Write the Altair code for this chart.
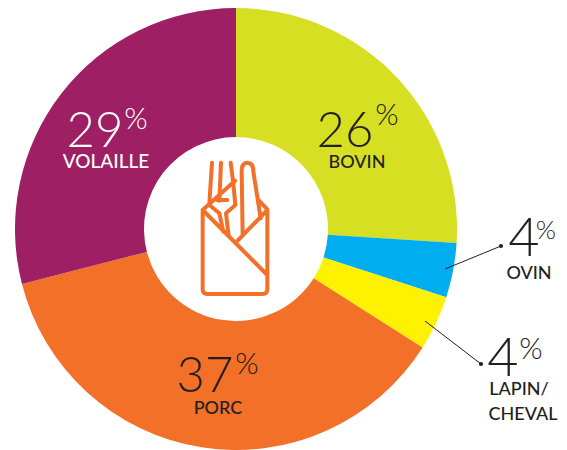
import altair as alt
import pandas as pd

categories = ["BOVIN", "OVIN", "LAPIN/CHEVAL", "PORC", "VOLAILLE"]
values = [26, 4, 4, 37, 29]
colors = ["#d6df21", "#00aeef", "#fff200", "#f37029", "#9e1f63"]

OFF = 8
CX, CY = 236 - OFF, 229 - OFF
INK = "#231f20"

df = pd.DataFrame({"cat": categories, "val": values, "order": range(5)})
pie = alt.Chart(df).mark_arc(outerRadius=221, innerRadius=92, stroke=None).encode(
    theta=alt.Theta("val:Q", stack=True),
    order=alt.Order("order:Q"),
    color=alt.Color("cat:N", scale=alt.Scale(domain=categories, range=colors), legend=None),
    x=alt.value(CX), y=alt.value(CY),
)

def label(t, x, y, size, color, weight=500):
    return alt.Chart(pd.DataFrame({"t": [t]})).mark_text(
        fontSize=size, font="Lato", fontWeight=weight, align="center", baseline="alphabetic",
        color=color
    ).encode(text="t:N", x=alt.value(x - OFF), y=alt.value(y - OFF))

def big(t, x, y, color, size=49):
    return label(t, x, y, size, color, weight=300)
def pct(x, y, color, size=30):
    return label("%", x, y, size, color, weight=300)

text_layers = [
    big("26", 345, 147, INK), pct(387, 125, INK), label("BOVIN", 357, 168, 18, INK),
    big("29", 95, 147, "#ffffff"), pct(136, 129, "#ffffff"), label("VOLAILLE", 106, 168, 19, "#ffffff"),
    big("37", 205, 392, INK), pct(247, 374, INK), label("PORC", 218, 414, 18, INK),
    big("4", 524, 256, INK, 54), pct(546, 239, INK, 26), label("OVIN", 529, 279, 18, INK),
    big("4", 503, 376, INK, 54), pct(531, 359, INK), label("LAPIN/", 519, 395, 18, INK),
    label("CHEVAL", 523, 420, 18, INK),
]

def leader(x1, y1, x2, y2):
    line = alt.Chart(pd.DataFrame({"a": [0]})).mark_rule(color=INK, strokeWidth=1).encode(
        x=alt.value(x1 - OFF), x2=alt.value(x2 - OFF), y=alt.value(y1 - OFF), y2=alt.value(y2 - OFF))
    dot = alt.Chart(pd.DataFrame({"a": [0]})).mark_point(filled=True, color=INK, size=18, opacity=1).encode(
        x=alt.value(x2 - OFF), y=alt.value(y2 - OFF))
    return [line, dot]

ICX, ICY, U = 138, 240, 200
def P(x, y):
    return f"{(x - ICX) / U:.3f},{(y - ICY) / U:.3f}"
segs = [
    [("M", 38, 185), ("L", 38, 418), ("Q", 38, 432, 52, 432), ("L", 218, 432), ("Q", 232, 432, 232, 418), ("L", 232, 178), ("L", 205, 150)],
    [("M", 38, 180), ("L", 232, 375)],
    [("M", 232, 180), ("L", 140, 275)],
    [("M", 38, 180), ("L", 135, 92)],
    [("M", 66, 38), ("L", 58, 160)],
    [("M", 93, 38), ("L", 88, 152)],
    [("M", 122, 38), ("L", 130, 100), ("L", 136, 165), ("L", 108, 190), ("L", 116, 258)],
    [("M", 58, 165), ("L", 88, 190), ("L", 100, 245)],
    [("M", 80, 150), ("L", 112, 150)],
    [("M", 158, 255), ("L", 155, 65), ("Q", 155, 38, 172, 38), ("Q", 190, 38, 190, 65), ("L", 212, 205)],
]
d = ""
for seg in segs:
    for s in seg:
        cmd, *c = s
        pts = " ".join(P(c[i], c[i + 1]) for i in range(0, len(c), 2))
        d += f"{cmd}{pts} "
icon = alt.Chart(pd.DataFrame({"a": [0]})).mark_point(
    shape=d.strip(), size=(2 * U / 3) ** 2, filled=False, stroke="#f37029", strokeWidth=4,
    opacity=1, strokeJoin="round", strokeCap="round"
).encode(x=alt.value(190 + ICX / 3 - OFF), y=alt.value(150 + ICY / 3 - OFF))

leaders = leader(445, 269, 501, 246) + leader(425, 321, 481, 364)

chart = alt.layer(pie, icon, *leaders, *text_layers).properties(
    width=551, height=442, padding=0, autosize=alt.AutoSizeParams(type="none")
).configure_view(stroke=None)

chart.save("out.html", embed_options={"renderer": "svg", "actions": False})
